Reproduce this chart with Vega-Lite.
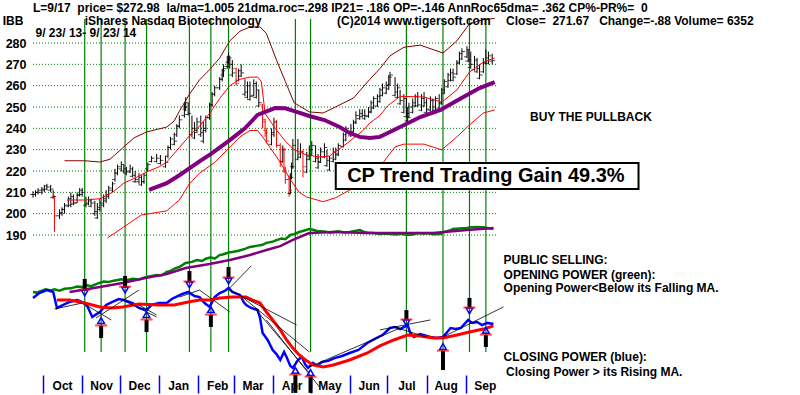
{
"$schema":"https://vega.github.io/schema/vega-lite/v6.json",
"width":767,"height":395,
"autosize":{"type":"none"},
"padding":{"left":33,"top":0,"right":0,"bottom":0},
"background":"white",
"config":{"view":{"stroke":null}},
"datasets":{
"grid":[{"v":190},{"v":200},{"v":210},{"v":220},{"v":230},{"v":240},{"v":250},{"v":260},{"v":270},{"v":280}],
"vl":[{"d":"2013/11/03"},{"d":"2013/11/16"},{"d":"2013/12/05"},{"d":"2013/12/22"},{"d":"2014/01/25"},{"d":"2014/02/11"},{"d":"2014/02/25"},{"d":"2014/04/19"},{"d":"2014/05/01"},{"d":"2014/07/16"},{"d":"2014/08/14"},{"d":"2014/09/04"},{"d":"2014/09/17"}],
"bars":[
{"d":"2013/09/23","o":209,"h":210.5,"l":207.5,"c":209},
{"d":"2013/09/25","o":209,"h":211,"l":208,"c":210},
{"d":"2013/09/27","o":210,"h":212,"l":209,"c":211},
{"d":"2013/09/30","o":210,"h":212.5,"l":209,"c":211.5},
{"d":"2013/10/02","o":211,"h":213.5,"l":210,"c":213},
{"d":"2013/10/04","o":211.5,"h":214,"l":211,"c":212.5},
{"d":"2013/10/07","o":211,"h":213.5,"l":210,"c":211.5},
{"d":"2013/10/09","o":207.5,"h":211,"l":207,"c":208},
{"d":"2013/10/10","o":208,"h":208.5,"l":191.5,"c":199},
{"d":"2013/10/14","o":199,"h":202,"l":197.5,"c":200.5},
{"d":"2013/10/16","o":200,"h":203,"l":199,"c":202},
{"d":"2013/10/18","o":202,"h":205,"l":200,"c":204},
{"d":"2013/10/21","o":203.5,"h":208,"l":203,"c":207},
{"d":"2013/10/23","o":204,"h":210,"l":203,"c":208},
{"d":"2013/10/25","o":204.5,"h":209,"l":204,"c":205},
{"d":"2013/10/28","o":205,"h":210,"l":205,"c":209},
{"d":"2013/10/30","o":208.5,"h":212,"l":208,"c":211},
{"d":"2013/11/01","o":209,"h":212,"l":208,"c":210},
{"d":"2013/11/04","o":204,"h":208,"l":203,"c":205},
{"d":"2013/11/06","o":204.5,"h":208,"l":204,"c":206},
{"d":"2013/11/08","o":203.5,"h":207,"l":203,"c":205},
{"d":"2013/11/11","o":200,"h":206,"l":199,"c":201},
{"d":"2013/11/13","o":198,"h":205,"l":197.5,"c":203},
{"d":"2013/11/15","o":202,"h":207,"l":201,"c":205},
{"d":"2013/11/18","o":204,"h":209,"l":203,"c":207},
{"d":"2013/11/20","o":206,"h":211,"l":205,"c":209},
{"d":"2013/11/22","o":208,"h":213,"l":207,"c":212},
{"d":"2013/11/25","o":211,"h":215,"l":210,"c":214},
{"d":"2013/11/27","o":216,"h":221,"l":215,"c":219},
{"d":"2013/11/29","o":219,"h":223,"l":218,"c":222},
{"d":"2013/12/02","o":221,"h":224.5,"l":220,"c":223},
{"d":"2013/12/04","o":220,"h":223,"l":219,"c":221},
{"d":"2013/12/06","o":219,"h":222,"l":218,"c":220},
{"d":"2013/12/09","o":219.5,"h":223,"l":219,"c":221},
{"d":"2013/12/11","o":217.5,"h":222,"l":217,"c":218},
{"d":"2013/12/13","o":215,"h":220,"l":214.5,"c":216},
{"d":"2013/12/16","o":215,"h":219,"l":214,"c":217},
{"d":"2013/12/18","o":213.5,"h":218,"l":213,"c":215},
{"d":"2013/12/20","o":215,"h":219,"l":214,"c":218},
{"d":"2013/12/23","o":221,"h":224,"l":220,"c":223},
{"d":"2013/12/26","o":224.5,"h":227,"l":224,"c":226},
{"d":"2013/12/30","o":224.5,"h":228,"l":224,"c":226},
{"d":"2014/01/02","o":223.5,"h":227.5,"l":223,"c":225},
{"d":"2014/01/06","o":222,"h":227,"l":221.5,"c":224},
{"d":"2014/01/08","o":227,"h":232,"l":226,"c":231},
{"d":"2014/01/10","o":231,"h":236,"l":230,"c":235},
{"d":"2014/01/13","o":232.5,"h":238,"l":232,"c":234},
{"d":"2014/01/15","o":237,"h":242,"l":236,"c":241},
{"d":"2014/01/17","o":241,"h":246,"l":240,"c":244},
{"d":"2014/01/21","o":246,"h":252,"l":245,"c":250},
{"d":"2014/01/22","o":249,"h":254.5,"l":248,"c":252},
{"d":"2014/01/24","o":246.5,"h":252,"l":246,"c":247},
{"d":"2014/01/27","o":237,"h":246,"l":236,"c":240},
{"d":"2014/01/29","o":235.5,"h":243,"l":235,"c":238},
{"d":"2014/01/31","o":239,"h":245,"l":238,"c":243},
{"d":"2014/02/03","o":237,"h":246,"l":236,"c":238},
{"d":"2014/02/05","o":234,"h":243,"l":233,"c":240},
{"d":"2014/02/07","o":239,"h":246,"l":238,"c":245},
{"d":"2014/02/10","o":245,"h":252,"l":244,"c":251},
{"d":"2014/02/12","o":251,"h":257,"l":250,"c":256},
{"d":"2014/02/14","o":256,"h":260,"l":255,"c":259},
{"d":"2014/02/18","o":259,"h":264,"l":258,"c":263},
{"d":"2014/02/20","o":263,"h":268,"l":262,"c":267},
{"d":"2014/02/21","o":265,"h":270,"l":264,"c":268},
{"d":"2014/02/24","o":269,"h":274,"l":268,"c":272},
{"d":"2014/02/25","o":271,"h":275.5,"l":270,"c":273},
{"d":"2014/02/26","o":269,"h":274,"l":268,"c":270},
{"d":"2014/02/28","o":265,"h":272,"l":264,"c":266},
{"d":"2014/03/03","o":268,"h":268.5,"l":260,"c":261},
{"d":"2014/03/05","o":262.5,"h":268,"l":262,"c":267},
{"d":"2014/03/07","o":264.5,"h":270,"l":264,"c":266},
{"d":"2014/03/10","o":256,"h":263,"l":255,"c":257},
{"d":"2014/03/12","o":254.5,"h":262,"l":254,"c":260},
{"d":"2014/03/14","o":253.5,"h":262,"l":253,"c":255},
{"d":"2014/03/17","o":255.5,"h":263,"l":255,"c":261},
{"d":"2014/03/19","o":254.5,"h":262,"l":254,"c":258},
{"d":"2014/03/21","o":250.5,"h":258,"l":250,"c":252},
{"d":"2014/03/24","o":251,"h":251.5,"l":240,"c":243},
{"d":"2014/03/26","o":244,"h":244.5,"l":236,"c":238},
{"d":"2014/03/27","o":239,"h":240,"l":233,"c":234},
{"d":"2014/03/31","o":232.5,"h":240,"l":232,"c":238},
{"d":"2014/04/02","o":237,"h":245,"l":236,"c":243},
{"d":"2014/04/04","o":243,"h":244,"l":231,"c":232},
{"d":"2014/04/07","o":232,"h":233,"l":222,"c":224},
{"d":"2014/04/09","o":224.5,"h":232,"l":224,"c":230},
{"d":"2014/04/10","o":230,"h":231,"l":219,"c":220},
{"d":"2014/04/11","o":220,"h":222,"l":214,"c":216},
{"d":"2014/04/14","o":216,"h":218,"l":208,"c":211},
{"d":"2014/04/15","o":209.5,"h":219,"l":209,"c":217},
{"d":"2014/04/16","o":216.5,"h":224,"l":216,"c":222},
{"d":"2014/04/17","o":222,"h":235,"l":221,"c":232},
{"d":"2014/04/21","o":225.5,"h":235,"l":225,"c":228},
{"d":"2014/04/23","o":226.5,"h":233,"l":226,"c":229},
{"d":"2014/04/25","o":229,"h":230,"l":217,"c":222},
{"d":"2014/04/28","o":219.5,"h":229,"l":219,"c":227},
{"d":"2014/04/30","o":225.5,"h":232,"l":225,"c":230},
{"d":"2014/05/02","o":227.5,"h":234,"l":227,"c":232},
{"d":"2014/05/05","o":224.5,"h":232,"l":224,"c":226},
{"d":"2014/05/07","o":221.5,"h":228,"l":221,"c":224},
{"d":"2014/05/09","o":224.5,"h":231,"l":224,"c":229},
{"d":"2014/05/12","o":226.5,"h":233,"l":226,"c":231},
{"d":"2014/05/14","o":222.5,"h":230,"l":222,"c":225},
{"d":"2014/05/16","o":220.5,"h":227,"l":220,"c":226},
{"d":"2014/05/19","o":224.5,"h":231,"l":224,"c":229},
{"d":"2014/05/21","o":225.5,"h":231,"l":225,"c":228},
{"d":"2014/05/23","o":227.5,"h":233,"l":227,"c":232},
{"d":"2014/05/27","o":231.5,"h":238,"l":231,"c":237},
{"d":"2014/05/29","o":234.5,"h":241,"l":234,"c":240},
{"d":"2014/06/02","o":236.5,"h":242,"l":236,"c":238},
{"d":"2014/06/04","o":238.5,"h":244,"l":238,"c":243},
{"d":"2014/06/06","o":242.5,"h":248,"l":242,"c":246},
{"d":"2014/06/09","o":244.5,"h":249,"l":244,"c":247},
{"d":"2014/06/11","o":245.5,"h":249,"l":245,"c":246},
{"d":"2014/06/13","o":244.5,"h":249,"l":244,"c":246},
{"d":"2014/06/16","o":245.5,"h":250,"l":245,"c":248},
{"d":"2014/06/18","o":247.5,"h":253,"l":247,"c":252},
{"d":"2014/06/20","o":249.5,"h":255,"l":249,"c":254},
{"d":"2014/06/23","o":250.5,"h":256,"l":250,"c":255},
{"d":"2014/06/25","o":252.5,"h":259,"l":252,"c":258},
{"d":"2014/06/27","o":255.5,"h":261,"l":255,"c":259},
{"d":"2014/06/30","o":256.5,"h":262,"l":256,"c":260},
{"d":"2014/07/02","o":258.5,"h":265,"l":258,"c":264},
{"d":"2014/07/03","o":260.5,"h":266.5,"l":260,"c":265},
{"d":"2014/07/07","o":255.5,"h":264,"l":255,"c":257},
{"d":"2014/07/09","o":254.5,"h":261,"l":254,"c":259},
{"d":"2014/07/11","o":251.5,"h":258,"l":251,"c":253},
{"d":"2014/07/14","o":247.5,"h":256,"l":247,"c":254},
{"d":"2014/07/16","o":245.5,"h":254,"l":245,"c":247},
{"d":"2014/07/17","o":243.5,"h":250,"l":243,"c":245},
{"d":"2014/07/18","o":245.5,"h":252,"l":245,"c":250},
{"d":"2014/07/21","o":247.5,"h":254,"l":247,"c":252},
{"d":"2014/07/23","o":250.5,"h":256,"l":250,"c":255},
{"d":"2014/07/25","o":250.5,"h":257,"l":250,"c":251},
{"d":"2014/07/28","o":248.5,"h":256,"l":248,"c":254},
{"d":"2014/07/30","o":250.5,"h":257,"l":250,"c":252},
{"d":"2014/08/01","o":247.5,"h":254,"l":247,"c":249},
{"d":"2014/08/04","o":248.5,"h":255,"l":248,"c":253},
{"d":"2014/08/06","o":247.5,"h":254,"l":247,"c":250},
{"d":"2014/08/08","o":248.5,"h":255,"l":248,"c":254},
{"d":"2014/08/11","o":249.5,"h":256,"l":249,"c":252},
{"d":"2014/08/13","o":251.5,"h":259,"l":251,"c":258},
{"d":"2014/08/15","o":256.5,"h":263,"l":256,"c":262},
{"d":"2014/08/18","o":259.5,"h":266,"l":259,"c":265},
{"d":"2014/08/20","o":262.5,"h":268,"l":262,"c":266},
{"d":"2014/08/22","o":262.5,"h":268,"l":262,"c":264},
{"d":"2014/08/25","o":265.5,"h":272,"l":265,"c":271},
{"d":"2014/08/27","o":270.5,"h":276,"l":270,"c":275},
{"d":"2014/08/29","o":272.5,"h":277.5,"l":272,"c":276},
{"d":"2014/09/02","o":273.5,"h":278.5,"l":273,"c":277},
{"d":"2014/09/03","o":271.5,"h":277,"l":271,"c":272},
{"d":"2014/09/05","o":268.5,"h":276,"l":268,"c":270},
{"d":"2014/09/08","o":267.5,"h":274,"l":267,"c":272},
{"d":"2014/09/10","o":266.5,"h":273,"l":266,"c":268},
{"d":"2014/09/12","o":263.5,"h":270,"l":263,"c":265},
{"d":"2014/09/15","o":266.5,"h":273,"l":266,"c":271},
{"d":"2014/09/17","o":270.5,"h":277,"l":270,"c":273},
{"d":"2014/09/19","o":270.5,"h":276,"l":270,"c":274},
{"d":"2014/09/22","o":271.5,"h":275,"l":270,"c":271.7}
],
"ln":[
{"k":"ma","d":"2013/12/24","v":211.2},{"k":"ma","d":"2014/01/07","v":214.3},{"k":"ma","d":"2014/01/17","v":218},{"k":"ma","d":"2014/02/02","v":224.5},{"k":"ma","d":"2014/02/12","v":228.4},{"k":"ma","d":"2014/02/26","v":234.5},{"k":"ma","d":"2014/03/10","v":240},{"k":"ma","d":"2014/03/20","v":246.3},{"k":"ma","d":"2014/03/26","v":247.7},{"k":"ma","d":"2014/04/03","v":249.5},{"k":"ma","d":"2014/04/11","v":249.4},{"k":"ma","d":"2014/04/20","v":247.7},{"k":"ma","d":"2014/04/30","v":245.8},{"k":"ma","d":"2014/05/12","v":243.9},{"k":"ma","d":"2014/05/24","v":240.6},{"k":"ma","d":"2014/06/01","v":237.8},{"k":"ma","d":"2014/06/09","v":236},{"k":"ma","d":"2014/06/17","v":235.5},{"k":"ma","d":"2014/06/25","v":236},{"k":"ma","d":"2014/07/11","v":240.6},{"k":"ma","d":"2014/07/27","v":245.3},{"k":"ma","d":"2014/08/12","v":248.6},{"k":"ma","d":"2014/08/28","v":254},{"k":"ma","d":"2014/09/12","v":258.9},{"k":"ma","d":"2014/09/24","v":261.7},
{"k":"mid","d":"2013/10/20","v":206.4},{"k":"mid","d":"2013/11/03","v":206.4},{"k":"mid","d":"2013/11/15","v":207},{"k":"mid","d":"2013/11/25","v":210},{"k":"mid","d":"2013/12/04","v":214.3},{"k":"mid","d":"2013/12/14","v":217},{"k":"mid","d":"2013/12/23","v":219.8},{"k":"mid","d":"2014/01/01","v":222},{"k":"mid","d":"2014/01/07","v":224.2},{"k":"mid","d":"2014/01/17","v":231},{"k":"mid","d":"2014/01/25","v":236.5},{"k":"mid","d":"2014/02/02","v":241},{"k":"mid","d":"2014/02/10","v":247},{"k":"mid","d":"2014/02/18","v":254},{"k":"mid","d":"2014/02/26","v":260},{"k":"mid","d":"2014/03/06","v":263},{"k":"mid","d":"2014/03/14","v":264},{"k":"mid","d":"2014/03/20","v":264},{"k":"mid","d":"2014/03/23","v":262},{"k":"mid","d":"2014/03/26","v":247},{"k":"mid","d":"2014/04/03","v":240},{"k":"mid","d":"2014/04/11","v":234},{"k":"mid","d":"2014/04/18","v":230},{"k":"mid","d":"2014/04/28","v":227.5},{"k":"mid","d":"2014/05/08","v":226.6},{"k":"mid","d":"2014/05/16","v":227},{"k":"mid","d":"2014/05/30","v":233},{"k":"mid","d":"2014/06/12","v":239.2},{"k":"mid","d":"2014/06/17","v":242.5},{"k":"mid","d":"2014/06/25","v":246},{"k":"mid","d":"2014/07/01","v":250.5},{"k":"mid","d":"2014/07/11","v":255},{"k":"mid","d":"2014/07/30","v":254.7},{"k":"mid","d":"2014/08/13","v":252.3},{"k":"mid","d":"2014/08/25","v":258},{"k":"mid","d":"2014/09/04","v":266.4},{"k":"mid","d":"2014/09/15","v":271},{"k":"mid","d":"2014/09/24","v":273},
{"k":"lo","d":"2013/11/21","v":188.6},{"k":"lo","d":"2013/12/04","v":193.8},{"k":"lo","d":"2013/12/18","v":199.4},{"k":"lo","d":"2014/01/07","v":201.3},{"k":"lo","d":"2014/01/17","v":206.4},{"k":"lo","d":"2014/01/25","v":214},{"k":"lo","d":"2014/02/02","v":219},{"k":"lo","d":"2014/02/14","v":224},{"k":"lo","d":"2014/02/24","v":230},{"k":"lo","d":"2014/03/06","v":236},{"k":"lo","d":"2014/03/14","v":239},{"k":"lo","d":"2014/03/20","v":239},{"k":"lo","d":"2014/03/24","v":236},{"k":"lo","d":"2014/03/30","v":231},{"k":"lo","d":"2014/04/07","v":224},{"k":"lo","d":"2014/04/15","v":216},{"k":"lo","d":"2014/04/22","v":210},{"k":"lo","d":"2014/04/28","v":207.8},{"k":"lo","d":"2014/05/11","v":205.6},{"k":"lo","d":"2014/05/21","v":207.5},{"k":"lo","d":"2014/06/04","v":212},{"k":"lo","d":"2014/06/25","v":222},{"k":"lo","d":"2014/07/07","v":231.3},{"k":"lo","d":"2014/07/14","v":232.6},{"k":"lo","d":"2014/07/30","v":232.6},{"k":"lo","d":"2014/08/13","v":229.9},{"k":"lo","d":"2014/08/25","v":236},{"k":"lo","d":"2014/09/04","v":241.6},{"k":"lo","d":"2014/09/15","v":247.2},{"k":"lo","d":"2014/09/24","v":248.6},
{"k":"up","d":"2013/10/18","v":224.8},{"k":"up","d":"2013/11/03","v":224.8},{"k":"up","d":"2013/11/15","v":224.2},{"k":"up","d":"2013/11/23","v":225.5},{"k":"up","d":"2013/12/04","v":231.3},{"k":"up","d":"2013/12/12","v":235.5},{"k":"up","d":"2013/12/22","v":238.3},{"k":"up","d":"2014/01/07","v":240.6},{"k":"up","d":"2014/01/13","v":243.5},{"k":"up","d":"2014/01/17","v":248},{"k":"up","d":"2014/01/25","v":256},{"k":"up","d":"2014/02/02","v":262.7},{"k":"up","d":"2014/02/10","v":267.5},{"k":"up","d":"2014/02/18","v":273},{"k":"up","d":"2014/02/26","v":281},{"k":"up","d":"2014/03/06","v":285.5},{"k":"up","d":"2014/03/14","v":287.5},{"k":"up","d":"2014/03/22","v":287.5},{"k":"up","d":"2014/03/27","v":284.5},{"k":"up","d":"2014/04/04","v":272},{"k":"up","d":"2014/04/11","v":262},{"k":"up","d":"2014/04/18","v":252},{"k":"up","d":"2014/04/30","v":247.7},{"k":"up","d":"2014/05/11","v":247.2},{"k":"up","d":"2014/05/19","v":249.5},{"k":"up","d":"2014/06/04","v":254.2},{"k":"up","d":"2014/06/17","v":263},{"k":"up","d":"2014/06/25","v":268},{"k":"up","d":"2014/07/03","v":274},{"k":"up","d":"2014/07/14","v":278},{"k":"up","d":"2014/07/27","v":279},{"k":"up","d":"2014/08/14","v":275.3},{"k":"up","d":"2014/08/25","v":281},{"k":"up","d":"2014/09/04","v":289},{"k":"up","d":"2014/09/15","v":291},{"k":"up","d":"2014/09/24","v":291.5},
{"k":"op","d":"2013/09/23","v":163.3},{"k":"op","d":"2013/09/26","v":163.0},{"k":"op","d":"2013/09/30","v":163.9},{"k":"op","d":"2013/10/03","v":164.5},{"k":"op","d":"2013/10/07","v":164.0},{"k":"op","d":"2013/10/10","v":164.6},{"k":"op","d":"2013/10/14","v":163.9},{"k":"op","d":"2013/10/18","v":164.8},{"k":"op","d":"2013/10/23","v":165.0},{"k":"op","d":"2013/10/28","v":165.8},{"k":"op","d":"2013/11/01","v":165.6},{"k":"op","d":"2013/11/05","v":166.4},{"k":"op","d":"2013/11/08","v":166.0},{"k":"op","d":"2013/11/13","v":167.2},{"k":"op","d":"2013/11/18","v":168.2},{"k":"op","d":"2013/11/22","v":168.0},{"k":"op","d":"2013/11/26","v":168.6},{"k":"op","d":"2013/12/02","v":169.3},{"k":"op","d":"2013/12/06","v":168.8},{"k":"op","d":"2013/12/11","v":169.5},{"k":"op","d":"2013/12/16","v":169.2},{"k":"op","d":"2013/12/20","v":170.0},{"k":"op","d":"2013/12/24","v":170.6},{"k":"op","d":"2013/12/30","v":171.2},{"k":"op","d":"2014/01/03","v":171.0},{"k":"op","d":"2014/01/07","v":172.7},{"k":"op","d":"2014/01/10","v":173.2},{"k":"op","d":"2014/01/14","v":174.5},{"k":"op","d":"2014/01/17","v":175.0},{"k":"op","d":"2014/01/22","v":176.9},{"k":"op","d":"2014/01/27","v":177.4},{"k":"op","d":"2014/01/31","v":178.3},{"k":"op","d":"2014/02/04","v":177.8},{"k":"op","d":"2014/02/07","v":178.9},{"k":"op","d":"2014/02/11","v":179.5},{"k":"op","d":"2014/02/14","v":178.9},{"k":"op","d":"2014/02/18","v":180.6},{"k":"op","d":"2014/02/21","v":181.0},{"k":"op","d":"2014/02/25","v":181.8},{"k":"op","d":"2014/02/28","v":182.0},{"k":"op","d":"2014/03/05","v":182.6},{"k":"op","d":"2014/03/10","v":183.5},{"k":"op","d":"2014/03/14","v":184.4},{"k":"op","d":"2014/03/19","v":184.9},{"k":"op","d":"2014/03/24","v":185.4},{"k":"op","d":"2014/03/27","v":186.3},{"k":"op","d":"2014/04/01","v":186.9},{"k":"op","d":"2014/04/04","v":187.6},{"k":"op","d":"2014/04/08","v":188.3},{"k":"op","d":"2014/04/11","v":188.0},{"k":"op","d":"2014/04/15","v":190.0},{"k":"op","d":"2014/04/18","v":190.4},{"k":"op","d":"2014/04/22","v":191.4},{"k":"op","d":"2014/04/25","v":191.9},{"k":"op","d":"2014/04/30","v":192.8},{"k":"op","d":"2014/05/03","v":192.5},{"k":"op","d":"2014/05/06","v":191.9},{"k":"op","d":"2014/05/12","v":191.6},{"k":"op","d":"2014/05/16","v":191.2},{"k":"op","d":"2014/05/19","v":191.4},{"k":"op","d":"2014/05/23","v":191.8},{"k":"op","d":"2014/05/28","v":191.2},{"k":"op","d":"2014/06/01","v":191.4},{"k":"op","d":"2014/06/05","v":191.9},{"k":"op","d":"2014/06/09","v":192.3},{"k":"op","d":"2014/06/12","v":191.6},{"k":"op","d":"2014/06/16","v":191.0},{"k":"op","d":"2014/06/20","v":190.9},{"k":"op","d":"2014/06/25","v":190.5},{"k":"op","d":"2014/06/30","v":190.7},{"k":"op","d":"2014/07/03","v":190.5},{"k":"op","d":"2014/07/08","v":190.2},{"k":"op","d":"2014/07/11","v":190.6},{"k":"op","d":"2014/07/17","v":190.0},{"k":"op","d":"2014/07/21","v":190.2},{"k":"op","d":"2014/07/25","v":190.9},{"k":"op","d":"2014/07/30","v":190.6},{"k":"op","d":"2014/08/01","v":190.9},{"k":"op","d":"2014/08/06","v":190.4},{"k":"op","d":"2014/08/12","v":190.5},{"k":"op","d":"2014/08/15","v":191.5},{"k":"op","d":"2014/08/20","v":192.3},{"k":"op","d":"2014/08/22","v":192.8},{"k":"op","d":"2014/08/27","v":193.0},{"k":"op","d":"2014/09/02","v":193.3},{"k":"op","d":"2014/09/05","v":193.6},{"k":"op","d":"2014/09/10","v":193.75},{"k":"op","d":"2014/09/15","v":193.6},{"k":"op","d":"2014/09/18","v":193.3},{"k":"op","d":"2014/09/23","v":192.8},
{"k":"opma","d":"2013/10/22","v":163.3},{"k":"opma","d":"2013/11/15","v":165.6},{"k":"opma","d":"2013/12/03","v":167.5},{"k":"opma","d":"2013/12/22","v":169.9},{"k":"opma","d":"2014/01/07","v":171.7},{"k":"opma","d":"2014/01/22","v":174.5},{"k":"opma","d":"2014/02/10","v":176.4},{"k":"opma","d":"2014/02/26","v":178.3},{"k":"opma","d":"2014/03/14","v":180.6},{"k":"opma","d":"2014/03/27","v":183.0},{"k":"opma","d":"2014/04/07","v":184.8},{"k":"opma","d":"2014/04/17","v":187.7},{"k":"opma","d":"2014/04/30","v":190.9},{"k":"opma","d":"2014/05/19","v":191.4},{"k":"opma","d":"2014/06/15","v":190.9},{"k":"opma","d":"2014/07/11","v":190.9},{"k":"opma","d":"2014/08/06","v":190.9},{"k":"opma","d":"2014/09/02","v":192.3},{"k":"opma","d":"2014/09/23","v":193.3},
{"k":"cp","d":"2013/09/23","v":160.5},{"k":"cp","d":"2013/09/28","v":162.8},{"k":"cp","d":"2013/10/04","v":164.2},{"k":"cp","d":"2013/10/09","v":163.3},{"k":"cp","d":"2013/10/12","v":155.8},{"k":"cp","d":"2013/10/17","v":157.2},{"k":"cp","d":"2013/10/22","v":158.6},{"k":"cp","d":"2013/10/28","v":159.5},{"k":"cp","d":"2013/11/01","v":158.6},{"k":"cp","d":"2013/11/05","v":156.7},{"k":"cp","d":"2013/11/09","v":151.6},{"k":"cp","d":"2013/11/15","v":153.9},{"k":"cp","d":"2013/11/20","v":157.2},{"k":"cp","d":"2013/11/25","v":158.6},{"k":"cp","d":"2013/11/30","v":160.0},{"k":"cp","d":"2013/12/04","v":159.5},{"k":"cp","d":"2013/12/11","v":158.1},{"k":"cp","d":"2013/12/16","v":155.8},{"k":"cp","d":"2013/12/22","v":154.8},{"k":"cp","d":"2013/12/26","v":157.2},{"k":"cp","d":"2014/01/01","v":158.1},{"k":"cp","d":"2014/01/07","v":158.1},{"k":"cp","d":"2014/01/11","v":160.0},{"k":"cp","d":"2014/01/14","v":160.9},{"k":"cp","d":"2014/01/19","v":162.3},{"k":"cp","d":"2014/01/24","v":163.3},{"k":"cp","d":"2014/01/29","v":161.4},{"k":"cp","d":"2014/02/02","v":160.9},{"k":"cp","d":"2014/02/06","v":158.1},{"k":"cp","d":"2014/02/10","v":156.3},{"k":"cp","d":"2014/02/14","v":160.9},{"k":"cp","d":"2014/02/18","v":162.8},{"k":"cp","d":"2014/02/22","v":163.8},{"k":"cp","d":"2014/02/25","v":165.2},{"k":"cp","d":"2014/02/28","v":163.3},{"k":"cp","d":"2014/03/06","v":161.9},{"k":"cp","d":"2014/03/09","v":158.6},{"k":"cp","d":"2014/03/11","v":157.2},{"k":"cp","d":"2014/03/15","v":155.8},{"k":"cp","d":"2014/03/20","v":154.8},{"k":"cp","d":"2014/03/22","v":151.1},{"k":"cp","d":"2014/03/24","v":144.1},{"k":"cp","d":"2014/03/28","v":140.8},{"k":"cp","d":"2014/04/01","v":136.1},{"k":"cp","d":"2014/04/04","v":134.2},{"k":"cp","d":"2014/04/07","v":131.4},{"k":"cp","d":"2014/04/10","v":135.2},{"k":"cp","d":"2014/04/12","v":132.8},{"k":"cp","d":"2014/04/15","v":128.6},{"k":"cp","d":"2014/04/17","v":127.7},{"k":"cp","d":"2014/04/21","v":131.4},{"k":"cp","d":"2014/04/24","v":132.8},{"k":"cp","d":"2014/04/27","v":129.1},{"k":"cp","d":"2014/04/29","v":127.7},{"k":"cp","d":"2014/05/03","v":130.0},{"k":"cp","d":"2014/05/06","v":128.6},{"k":"cp","d":"2014/05/10","v":130.5},{"k":"cp","d":"2014/05/15","v":131.0},{"k":"cp","d":"2014/05/20","v":132.3},{"k":"cp","d":"2014/05/26","v":133.3},{"k":"cp","d":"2014/06/01","v":134.7},{"k":"cp","d":"2014/06/08","v":136.1},{"k":"cp","d":"2014/06/15","v":139.4},{"k":"cp","d":"2014/06/21","v":141.3},{"k":"cp","d":"2014/06/27","v":143.1},{"k":"cp","d":"2014/07/03","v":146.4},{"k":"cp","d":"2014/07/07","v":146.9},{"k":"cp","d":"2014/07/11","v":145.9},{"k":"cp","d":"2014/07/17","v":147.8},{"k":"cp","d":"2014/07/19","v":144.1},{"k":"cp","d":"2014/07/22","v":142.2},{"k":"cp","d":"2014/07/27","v":143.6},{"k":"cp","d":"2014/08/04","v":142.2},{"k":"cp","d":"2014/08/09","v":141.7},{"k":"cp","d":"2014/08/14","v":142.2},{"k":"cp","d":"2014/08/20","v":146.4},{"k":"cp","d":"2014/08/24","v":145.9},{"k":"cp","d":"2014/08/28","v":146.4},{"k":"cp","d":"2014/09/03","v":150.2},{"k":"cp","d":"2014/09/06","v":148.8},{"k":"cp","d":"2014/09/10","v":149.2},{"k":"cp","d":"2014/09/14","v":147.8},{"k":"cp","d":"2014/09/18","v":148.8},{"k":"cp","d":"2014/09/23","v":148.3},
{"k":"cpma","d":"2013/10/12","v":159.5},{"k":"cpma","d":"2013/10/22","v":159.5},{"k":"cpma","d":"2013/11/03","v":158.1},{"k":"cpma","d":"2013/11/15","v":156.3},{"k":"cpma","d":"2013/11/25","v":155.8},{"k":"cpma","d":"2013/12/03","v":156.3},{"k":"cpma","d":"2013/12/16","v":157.7},{"k":"cpma","d":"2014/01/01","v":157.2},{"k":"cpma","d":"2014/01/13","v":157.2},{"k":"cpma","d":"2014/01/24","v":158.6},{"k":"cpma","d":"2014/02/02","v":159.5},{"k":"cpma","d":"2014/02/10","v":159.5},{"k":"cpma","d":"2014/02/18","v":160.5},{"k":"cpma","d":"2014/02/28","v":160.9},{"k":"cpma","d":"2014/03/11","v":160.9},{"k":"cpma","d":"2014/03/16","v":159.5},{"k":"cpma","d":"2014/03/22","v":158.1},{"k":"cpma","d":"2014/03/27","v":153.9},{"k":"cpma","d":"2014/04/01","v":150.2},{"k":"cpma","d":"2014/04/07","v":145.5},{"k":"cpma","d":"2014/04/12","v":140.8},{"k":"cpma","d":"2014/04/17","v":137.0},{"k":"cpma","d":"2014/04/22","v":133.8},{"k":"cpma","d":"2014/04/28","v":131.0},{"k":"cpma","d":"2014/05/03","v":129.1},{"k":"cpma","d":"2014/05/11","v":128.1},{"k":"cpma","d":"2014/05/19","v":129.1},{"k":"cpma","d":"2014/06/01","v":131.4},{"k":"cpma","d":"2014/06/15","v":134.7},{"k":"cpma","d":"2014/06/25","v":138.0},{"k":"cpma","d":"2014/07/06","v":140.8},{"k":"cpma","d":"2014/07/17","v":143.1},{"k":"cpma","d":"2014/07/27","v":142.7},{"k":"cpma","d":"2014/08/06","v":141.7},{"k":"cpma","d":"2014/08/14","v":141.7},{"k":"cpma","d":"2014/08/25","v":143.1},{"k":"cpma","d":"2014/09/04","v":144.5},{"k":"cpma","d":"2014/09/15","v":145.9},{"k":"cpma","d":"2014/09/23","v":147.4}
],
"tr":[
{"d":"2013/10/10","v":155.3,"d2":"2013/11/01","v2":158.1},
{"d":"2013/11/04","v":157.2,"d2":"2013/11/24","v2":150.2},
{"d":"2013/11/12","v":151.1,"d2":"2013/12/16","v2":164.2},
{"d":"2013/12/03","v":159.5,"d2":"2013/12/30","v2":151.6},
{"d":"2013/12/16","v":157.2,"d2":"2013/12/30","v2":152.5},
{"d":"2014/01/17","v":160.9,"d2":"2014/02/02","v2":164.2},
{"d":"2014/02/02","v":164.2,"d2":"2014/02/26","v2":153.9},
{"d":"2014/02/26","v":165.2,"d2":"2014/03/15","v2":175.5},
{"d":"2014/02/26","v":164.2,"d2":"2014/04/20","v2":147.8},
{"d":"2014/03/06","v":161.9,"d2":"2014/04/30","v2":135.2},
{"d":"2014/03/19","v":154.8,"d2":"2014/04/30","v2":125.3},
{"d":"2014/03/27","v":150.2,"d2":"2014/05/08","v2":118.8},
{"d":"2014/04/30","v":128.1,"d2":"2014/07/11","v2":146.4},
{"d":"2014/06/25","v":145.5,"d2":"2014/08/04","v2":150.2},
{"d":"2014/07/06","v":146.9,"d2":"2014/08/01","v2":142.2},
{"d":"2014/08/14","v":142.2,"d2":"2014/10/01","v2":156.3}
],
"arr":[
{"d":"2013/11/03","dir":"down","b1":169.4,"b2":164.2,"t":162.8,"r":164.4},
{"d":"2013/11/16","dir":"up","b1":147.4,"b2":141.7,"t":149.9,"r":147.6},
{"d":"2013/12/05","dir":"down","b1":170.8,"b2":165.6,"t":164.2,"r":165.8},
{"d":"2013/12/22","dir":"up","b1":150.2,"b2":144.5,"t":152.7,"r":150.4},
{"d":"2014/01/25","dir":"down","b1":173.1,"b2":168.0,"t":166.6,"r":168.2},
{"d":"2014/02/11","dir":"up","b1":152.5,"b2":146.9,"t":155.0,"r":152.7},
{"d":"2014/02/25","dir":"down","b1":175.0,"b2":169.9,"t":168.4,"r":170.1},
{"d":"2014/04/19","dir":"up","b1":124.4,"b2":116,"t":126.5,"r":124.6},
{"d":"2014/05/01","dir":"up","b1":123.4,"b2":116,"t":125.5,"r":123.6},
{"d":"2014/07/16","dir":"down","b1":154.8,"b2":150.2,"t":148.8,"r":150.4},
{"d":"2014/08/14","dir":"up","b1":135.6,"b2":126.7,"t":137.7,"r":135.8},
{"d":"2014/09/04","dir":"down","b1":160.5,"b2":155.8,"t":154.4,"r":156.0},
{"d":"2014/09/17","dir":"up","b1":143.1,"b2":137.5,"t":145.3,"r":143.3}
],
"txt":[
{"d":"2013/09/23","v":296.4,"s":"L=9/17\u00a0\u00a0price= $272.98\u00a0\u00a0la/ma=1.005 21dma.roc=.298 IP21= .186 OP=-.146 AnnRoc65dma= .362 CP%-PR%=\u00a0\u00a00"},
{"d":"2013/08/30","v":290.3,"s":"IBB"},
{"d":"2013/11/03","v":290.3,"s":"iShares Nasdaq Biotechnology"},
{"d":"2014/05/22","v":290.3,"s":"(C)2014 www.tigersoft.com"},
{"d":"2014/10/03","v":290.3,"s":"Close=\u00a0\u00a0271.67\u00a0\u00a0\u00a0Change=-.88 Volume= 6352"},
{"d":"2013/09/25","v":284.7,"s":"9/ 23/ 13- 9/ 23/ 14"},
{"d":"2014/10/22","v":245.3,"s":"BUY THE PULLBACK"},
{"d":"2014/10/01","v":178.3,"s":"PUBLIC SELLING:"},
{"d":"2014/10/01","v":171.25,"s":"OPENING POWER (green):"},
{"d":"2014/10/01","v":165.2,"s":"Opening Power<Below its Falling MA."},
{"d":"2014/10/01","v":132.9,"s":"CLOSING POWER (blue):"},
{"d":"2014/10/03","v":125.9,"s":"Closing Power > its Rising MA."}
],
"box":[{"d":"2014/05/21","d2":"2015/01/16","v":223.75,"v2":211.6,"s":"CP Trend Trading Gain 49.3%","dc":"2014/09/17","vc":217.7}]
},
"layer":[
{"data":{"name":"grid"},"mark":{"type":"rule","color":"#008000","strokeDash":[1,2],"strokeWidth":1},
 "encoding":{"x":{"datum":{"year":2013,"month":9,"date":23},"type":"temporal","scale":{"domain":[{"year":2013,"month":9,"date":23},{"year":2015,"month":5,"date":24}],"nice":false}},
 "x2":{"datum":{"year":2014,"month":9,"date":26}},
 "y":{"field":"v","type":"quantitative","scale":{"domain":[115,300.16],"nice":false,"zero":false},
  "axis":{"values":[190,200,210,220,230,240,250,260,270,280],"domain":false,"ticks":false,"grid":false,"labelPadding":7,"labelFont":"Liberation Sans","labelFontSize":12.5,"labelFontWeight":"bold","labelColor":"#000000","title":null}}}},
{"data":{"name":"vl"},"mark":{"type":"rule","color":"#008000","strokeWidth":1.2},
 "encoding":{"x":{"field":"d","type":"temporal","scale":{"domain":[{"year":2013,"month":9,"date":23},{"year":2015,"month":5,"date":24}],"nice":false}},
 "y":{"datum":291.3,"type":"quantitative","scale":{"domain":[115,300.16],"nice":false,"zero":false}},"y2":{"datum":135.2}}},
{"data":{"name":"bars"},"mark":{"type":"rule","strokeWidth":1},
 "encoding":{"x":{"field":"d","type":"temporal","scale":{"domain":[{"year":2013,"month":9,"date":23},{"year":2015,"month":5,"date":24}],"nice":false},
  "axis":{"values":[{"year":2013,"month":10,"date":1},{"year":2013,"month":11,"date":1},{"year":2013,"month":12,"date":1},{"year":2014,"month":1,"date":1},{"year":2014,"month":2,"date":1},{"year":2014,"month":3,"date":1},{"year":2014,"month":4,"date":1},{"year":2014,"month":5,"date":1},{"year":2014,"month":6,"date":1},{"year":2014,"month":7,"date":1},{"year":2014,"month":8,"date":1},{"year":2014,"month":9,"date":1}],
  "labelExpr":"timeFormat(datum.value, '%b')","orient":"bottom","offset":-20,"domain":false,"grid":false,"tickColor":"#0000ff","tickSize":18,"tickWidth":1.5,"labelOffset":19,"labelPadding":-8,"labelBaseline":"middle","labelAlign":"center","labelOverlap":false,"labelFlush":false,"labelBound":false,"labelFont":"Liberation Sans","labelFontSize":12,"labelFontWeight":"bold","labelColor":"#000000","title":null}},
 "y":{"field":"l","type":"quantitative","scale":{"domain":[115,300.16],"nice":false,"zero":false}},"y2":{"field":"h"},
 "color":{"condition":{"test":"datum.o > datum.c","value":"#ff0000"},"value":"#000000"}}},
{"data":{"name":"bars"},"mark":{"type":"tick","orient":"horizontal","size":3,"thickness":1,"xOffset":1.5},
 "encoding":{"x":{"field":"d","type":"temporal","scale":{"domain":[{"year":2013,"month":9,"date":23},{"year":2015,"month":5,"date":24}],"nice":false}},
 "y":{"field":"c","type":"quantitative","scale":{"domain":[115,300.16],"nice":false,"zero":false}},
 "color":{"condition":{"test":"datum.o > datum.c","value":"#ff0000"},"value":"#000000"}}},
{"data":{"name":"bars"},"mark":{"type":"tick","orient":"horizontal","size":3,"thickness":1,"xOffset":-1.5},
 "encoding":{"x":{"field":"d","type":"temporal","scale":{"domain":[{"year":2013,"month":9,"date":23},{"year":2015,"month":5,"date":24}],"nice":false}},
 "y":{"field":"o","type":"quantitative","scale":{"domain":[115,300.16],"nice":false,"zero":false}},
 "color":{"condition":{"test":"datum.o > datum.c","value":"#ff0000"},"value":"#000000"}}},
{"data":{"name":"ln"},"transform":[{"filter":"datum.k == 'up'"}],"mark":{"type":"line","color":"#800000","strokeWidth":1},
 "encoding":{"x":{"field":"d","type":"temporal","scale":{"domain":[{"year":2013,"month":9,"date":23},{"year":2015,"month":5,"date":24}],"nice":false}},"y":{"field":"v","type":"quantitative","scale":{"domain":[115,300.16],"nice":false,"zero":false}}}},
{"data":{"name":"ln"},"transform":[{"filter":"datum.k == 'mid'"}],"mark":{"type":"line","color":"#ff0000","strokeWidth":1},
 "encoding":{"x":{"field":"d","type":"temporal","scale":{"domain":[{"year":2013,"month":9,"date":23},{"year":2015,"month":5,"date":24}],"nice":false}},"y":{"field":"v","type":"quantitative","scale":{"domain":[115,300.16],"nice":false,"zero":false}}}},
{"data":{"name":"ln"},"transform":[{"filter":"datum.k == 'lo'"}],"mark":{"type":"line","color":"#ff0000","strokeWidth":1},
 "encoding":{"x":{"field":"d","type":"temporal","scale":{"domain":[{"year":2013,"month":9,"date":23},{"year":2015,"month":5,"date":24}],"nice":false}},"y":{"field":"v","type":"quantitative","scale":{"domain":[115,300.16],"nice":false,"zero":false}}}},
{"data":{"name":"ln"},"transform":[{"filter":"datum.k == 'ma'"}],"mark":{"type":"line","color":"#800080","strokeWidth":4},
 "encoding":{"x":{"field":"d","type":"temporal","scale":{"domain":[{"year":2013,"month":9,"date":23},{"year":2015,"month":5,"date":24}],"nice":false}},"y":{"field":"v","type":"quantitative","scale":{"domain":[115,300.16],"nice":false,"zero":false}}}},
{"data":{"name":"ln"},"transform":[{"filter":"datum.k == 'op'"}],"mark":{"type":"line","color":"#008000","strokeWidth":2.5},
 "encoding":{"x":{"field":"d","type":"temporal","scale":{"domain":[{"year":2013,"month":9,"date":23},{"year":2015,"month":5,"date":24}],"nice":false}},"y":{"field":"v","type":"quantitative","scale":{"domain":[115,300.16],"nice":false,"zero":false}}}},
{"data":{"name":"ln"},"transform":[{"filter":"datum.k == 'opma'"}],"mark":{"type":"line","color":"#800080","strokeWidth":2.5},
 "encoding":{"x":{"field":"d","type":"temporal","scale":{"domain":[{"year":2013,"month":9,"date":23},{"year":2015,"month":5,"date":24}],"nice":false}},"y":{"field":"v","type":"quantitative","scale":{"domain":[115,300.16],"nice":false,"zero":false}}}},
{"data":{"name":"ln"},"transform":[{"filter":"datum.k == 'cp'"}],"mark":{"type":"line","color":"#0000ff","strokeWidth":2.5},
 "encoding":{"x":{"field":"d","type":"temporal","scale":{"domain":[{"year":2013,"month":9,"date":23},{"year":2015,"month":5,"date":24}],"nice":false}},"y":{"field":"v","type":"quantitative","scale":{"domain":[115,300.16],"nice":false,"zero":false}}}},
{"data":{"name":"ln"},"transform":[{"filter":"datum.k == 'cpma'"}],"mark":{"type":"line","color":"#ff0000","strokeWidth":3},
 "encoding":{"x":{"field":"d","type":"temporal","scale":{"domain":[{"year":2013,"month":9,"date":23},{"year":2015,"month":5,"date":24}],"nice":false}},"y":{"field":"v","type":"quantitative","scale":{"domain":[115,300.16],"nice":false,"zero":false}}}},
{"data":{"name":"tr"},"mark":{"type":"rule","color":"#000000","strokeWidth":0.8},
 "encoding":{"x":{"field":"d","type":"temporal","scale":{"domain":[{"year":2013,"month":9,"date":23},{"year":2015,"month":5,"date":24}],"nice":false}},"x2":{"field":"d2"},
 "y":{"field":"v","type":"quantitative","scale":{"domain":[115,300.16],"nice":false,"zero":false}},"y2":{"field":"v2"}}},
{"data":{"name":"arr"},"mark":{"type":"rule","color":"#000000","strokeWidth":4},
 "encoding":{"x":{"field":"d","type":"temporal","scale":{"domain":[{"year":2013,"month":9,"date":23},{"year":2015,"month":5,"date":24}],"nice":false}},
 "y":{"field":"b1","type":"quantitative","scale":{"domain":[115,300.16],"nice":false,"zero":false}},"y2":{"field":"b2"}}},
{"data":{"name":"arr"},"mark":{"type":"point","filled":false,"color":"#0000ff","strokeWidth":1.5,"size":45,"opacity":1},
 "encoding":{"x":{"field":"d","type":"temporal","scale":{"domain":[{"year":2013,"month":9,"date":23},{"year":2015,"month":5,"date":24}],"nice":false}},
 "y":{"field":"t","type":"quantitative","scale":{"domain":[115,300.16],"nice":false,"zero":false}},
 "shape":{"field":"dir","type":"nominal","scale":{"domain":["down","up"],"range":["triangle-down","triangle-up"]},"legend":null}}},
{"data":{"name":"arr"},"mark":{"type":"tick","orient":"horizontal","size":12,"thickness":2,"color":"#ff0000"},
 "encoding":{"x":{"field":"d","type":"temporal","scale":{"domain":[{"year":2013,"month":9,"date":23},{"year":2015,"month":5,"date":24}],"nice":false}},
 "y":{"field":"r","type":"quantitative","scale":{"domain":[115,300.16],"nice":false,"zero":false}}}},
{"data":{"name":"txt"},"mark":{"type":"text","align":"left","baseline":"middle","font":"Liberation Sans","fontWeight":"bold","fontSize":12,"color":"#000000"},
 "encoding":{"x":{"field":"d","type":"temporal","scale":{"domain":[{"year":2013,"month":9,"date":23},{"year":2015,"month":5,"date":24}],"nice":false}},
 "y":{"field":"v","type":"quantitative","scale":{"domain":[115,300.16],"nice":false,"zero":false}},"text":{"field":"s"}}},
{"data":{"name":"box"},"mark":{"type":"rect","fill":"#ffffff","stroke":"#000000","strokeWidth":2},
 "encoding":{"x":{"field":"d","type":"temporal","scale":{"domain":[{"year":2013,"month":9,"date":23},{"year":2015,"month":5,"date":24}],"nice":false}},"x2":{"field":"d2"},
 "y":{"field":"v","type":"quantitative","scale":{"domain":[115,300.16],"nice":false,"zero":false}},"y2":{"field":"v2"}}},
{"data":{"name":"box"},"mark":{"type":"text","align":"center","baseline":"middle","font":"Liberation Sans","fontWeight":"bold","fontSize":20,"color":"#000000"},
 "encoding":{"x":{"field":"dc","type":"temporal","scale":{"domain":[{"year":2013,"month":9,"date":23},{"year":2015,"month":5,"date":24}],"nice":false}},
 "y":{"field":"vc","type":"quantitative","scale":{"domain":[115,300.16],"nice":false,"zero":false}},"text":{"field":"s"}}}
]
}
